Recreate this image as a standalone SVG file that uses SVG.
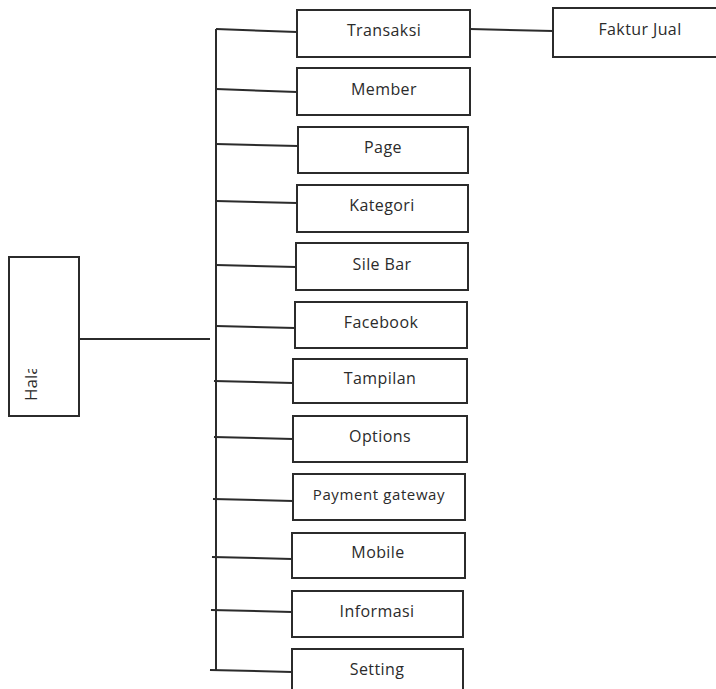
<svg xmlns="http://www.w3.org/2000/svg" width="716" height="689" viewBox="0 0 716 689">
<style>
.box{fill:#fff;stroke:#2b2b2b;stroke-width:2}
.ln{stroke:#2b2b2b;stroke-width:2;fill:none}
.t{font-family:"Open Sans","Noto Sans",sans-serif;font-size:16px;fill:#2b2b2b;text-anchor:middle;letter-spacing:0.4px}
</style>
<defs>
<clipPath id="halaClip"><rect x="9" y="369" width="70" height="48"/></clipPath>
</defs>
<rect width="716" height="689" fill="#fff"/>
<g id="connectors">
<line class="ln" x1="216" y1="29" x2="216" y2="671"/>
<line class="ln" x1="79" y1="339" x2="210" y2="339"/>
<line class="ln" x1="216" y1="29" x2="297" y2="32"/>
<line class="ln" x1="470" y1="29" x2="553" y2="31"/>
<line class="ln" x1="216" y1="89" x2="297" y2="92"/>
<line class="ln" x1="216" y1="144" x2="298" y2="146"/>
<line class="ln" x1="216" y1="201" x2="297" y2="203"/>
<line class="ln" x1="216" y1="265" x2="296" y2="267"/>
<line class="ln" x1="216" y1="326" x2="295" y2="328"/>
<line class="ln" x1="214" y1="381" x2="293" y2="383"/>
<line class="ln" x1="214" y1="437" x2="293" y2="439"/>
<line class="ln" x1="213" y1="499" x2="293" y2="501"/>
<line class="ln" x1="212" y1="557" x2="292" y2="559"/>
<line class="ln" x1="211" y1="610" x2="292" y2="612"/>
<line class="ln" x1="210" y1="670" x2="292" y2="672"/>
</g>
<g id="hala">
<rect class="box" x="9" y="257" width="70" height="159"/>
<g clip-path="url(#halaClip)">
<text class="t" transform="translate(37,401) rotate(-90)" style="text-anchor:start;font-size:17px;letter-spacing:0">Hala</text>
</g>
</g>
<g id="transaksi"><rect class="box" x="297" y="10" width="173" height="47"/><text class="t" x="384" y="36">Transaksi</text></g>
<g id="faktur-jual"><rect class="box" x="553" y="8" width="170" height="49"/><text class="t" x="640" y="35">Faktur Jual</text></g>
<g id="member"><rect class="box" x="297" y="68" width="173" height="47"/><text class="t" x="384" y="95">Member</text></g>
<g id="page"><rect class="box" x="298" y="127" width="170" height="46"/><text class="t" x="383" y="153">Page</text></g>
<g id="kategori"><rect class="box" x="297" y="185" width="171" height="47"/><text class="t" x="382" y="211">Kategori</text></g>
<g id="sile-bar"><rect class="box" x="296" y="243" width="172" height="47"/><text class="t" x="382" y="270">Sile Bar</text></g>
<g id="facebook"><rect class="box" x="295" y="302" width="172" height="46"/><text class="t" x="381" y="328">Facebook</text></g>
<g id="tampilan"><rect class="box" x="293" y="359" width="174" height="44"/><text class="t" x="380" y="384">Tampilan</text></g>
<g id="options"><rect class="box" x="293" y="416" width="174" height="46"/><text class="t" x="380" y="442">Options</text></g>
<g id="payment-gateway"><rect class="box" x="293" y="474" width="172" height="46"/><text class="t" x="379" y="500" style="font-size:15px;letter-spacing:0.6px">Payment gateway</text></g>
<g id="mobile"><rect class="box" x="292" y="533" width="173" height="45"/><text class="t" x="378" y="558">Mobile</text></g>
<g id="informasi"><rect class="box" x="292" y="591" width="171" height="46"/><text class="t" x="377" y="617">Informasi</text></g>
<g id="setting"><rect class="box" x="292" y="649" width="171" height="50"/><text class="t" x="377" y="675">Setting</text></g>
</svg>
